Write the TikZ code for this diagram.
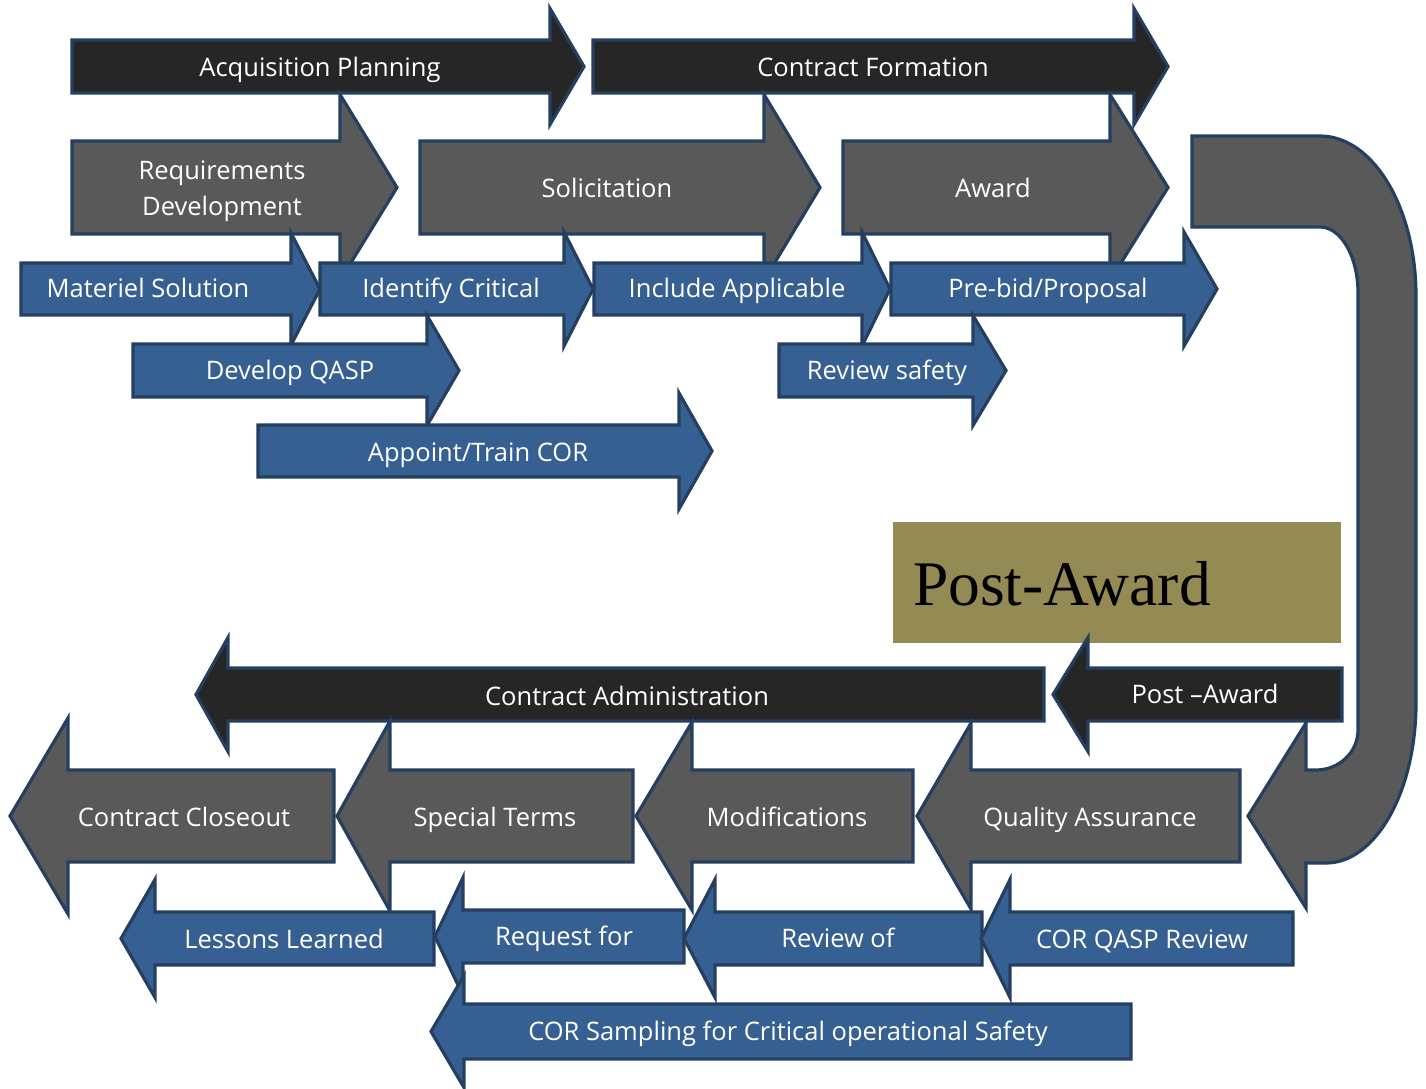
\documentclass[tikz,border=0pt]{standalone}
\usepackage{fontspec}
\setmainfont{Open Sans}
\newfontfamily\serifpa{Liberation Serif}
\definecolor{blk}{HTML}{262626}
\definecolor{gry}{HTML}{595959}
\definecolor{blu}{HTML}{376092}
\definecolor{bord}{HTML}{243F60}
\definecolor{olv}{HTML}{948A54}
\tikzset{
  shp/.style={draw=bord,line width=3.2pt,line join=miter},
  lbl/.style={text=white,inner sep=0pt,anchor=base,font=\fontsize{25.5}{36}\selectfont},
}
% fill, start x, head base x, tip x, body top y, body bottom y, half head height
\newcommand\BlockArrow[7]{\filldraw[shp,fill=#1] (#2,#5) -- (#3,#5) -- (#3,{(#5+#6)/2-#7}) -- (#4,{(#5+#6)/2}) -- (#3,{(#5+#6)/2+#7}) -- (#3,#6) -- (#2,#6) -- cycle;}
\begin{document}
\begin{tikzpicture}[x=1pt,y=-1pt]
\useasboundingbox (0,0) rectangle (1426,1088);
% ---------- top half ----------
\BlockArrow{blk}{72}{550}{584}{40}{93}{58}
\BlockArrow{blk}{593}{1134}{1168}{40}{93}{58}
\BlockArrow{gry}{72}{340}{397}{141}{234}{93}
\BlockArrow{gry}{420}{764}{820}{141}{234}{93}
\BlockArrow{gry}{843}{1110}{1168}{141}{234}{93}
\BlockArrow{blu}{21}{291}{320}{263}{315}{56}
\BlockArrow{blu}{320}{564}{593}{263}{315}{57}
\BlockArrow{blu}{594}{862}{890}{263}{315}{57}
\BlockArrow{blu}{891}{1184}{1217}{263}{315}{57}
\BlockArrow{blu}{133}{427}{459}{344}{397}{55}
\BlockArrow{blu}{779}{973}{1006}{344}{397}{55}
\BlockArrow{blu}{258}{679}{712}{425}{477}{58}
\node[lbl] (acq) at (320,76) {Acquisition Planning};
\node[lbl] (cf) at (873,76) {Contract Formation};
\node[lbl,anchor=center,align=center] (rd) at (222,191) {Requirements\\Development};
\node[lbl] (sol) at (607,197) {Solicitation};
\node[lbl] (awd) at (993,197) {Award};
\node[lbl] (mat) at (148,297) {Materiel Solution};
\node[lbl] (idc) at (451,297) {Identify Critical};
\node[lbl] (inc) at (737,297) {Include Applicable};
\node[lbl] (pbp) at (1048,297) {Pre-bid/Proposal};
\node[lbl] (dq) at (290,379) {Develop QASP};
\node[lbl] (rs) at (887,379) {Review safety};
\node[lbl] (atc) at (478,461) {Appoint/Train COR};
% ---------- post-award label ----------
\fill[olv] (893,522) rectangle (1341,643);
\node[inner sep=0pt,anchor=base west,font=\serifpa\fontsize{63.5}{70}\selectfont] (pa) at (913,605) {Post-Award};
% ---------- bottom half ----------
\BlockArrow{blk}{1044}{228}{196}{668}{721}{57}
\BlockArrow{blk}{1342}{1088}{1053}{668}{721}{57}
\BlockArrow{gry}{334}{68}{10}{770}{862}{98}
\BlockArrow{gry}{633}{390}{337}{770}{862}{95}
\BlockArrow{gry}{913}{692}{636}{770}{862}{94}
\BlockArrow{gry}{1240}{971}{917}{770}{862}{93}
\BlockArrow{blu}{434}{155}{121}{912}{965}{59}
\BlockArrow{blu}{684}{463}{435}{910}{963}{59}
\BlockArrow{blu}{982}{715}{684}{912}{965}{59}
\BlockArrow{blu}{1293}{1010}{981}{912}{965}{59}
\BlockArrow{blu}{1131}{464}{431}{1004}{1059}{56}
% ---------- U-turn arrow ----------
\filldraw[shp,fill=gry] (1192,136) -- (1320,136)
  arc[start angle=90,end angle=0,x radius=96pt,y radius=160pt] -- (1416,703)
  arc[start angle=0,end angle=-90,x radius=90pt,y radius=160pt] -- (1306,863)
  -- (1306,908) -- (1248,816) -- (1306,723) -- (1306,770) -- (1316,770)
  arc[start angle=-90,end angle=0,x radius=42pt,y radius=40pt] -- (1358,293)
  arc[start angle=0,end angle=90,x radius=38pt,y radius=66pt] -- (1192,227) -- cycle;
\node[lbl] (ca) at (627,705) {Contract Administration};
\node[lbl] (pa2) at (1205,703) {Post –Award};
\node[lbl] (cc) at (184,826) {Contract Closeout};
\node[lbl] (st) at (495,826) {Special Terms};
\node[lbl] (mod) at (787,826) {Modifications};
\node[lbl] (qa) at (1090,826) {Quality Assurance};
\node[lbl] (ll) at (284,948) {Lessons Learned};
\node[lbl] (rf) at (564,945) {Request for};
\node[lbl] (ro) at (838,947) {Review of};
\node[lbl] (cqr) at (1142,948) {COR QASP Review};
\node[lbl] (cs) at (788,1040) {COR Sampling for Critical operational Safety};
\end{tikzpicture}
\end{document}
